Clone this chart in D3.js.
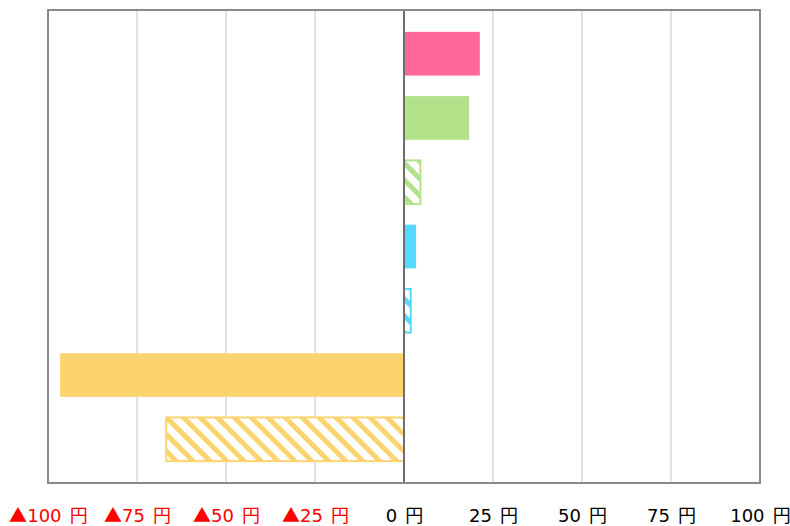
<!DOCTYPE html>
<html><head><meta charset="utf-8">
<script src="https://cdn.jsdelivr.net/npm/d3@7"></script>
<style>
html,body{margin:0;padding:0;background:#fff;overflow:hidden}
@font-face{font-family:"TriCJK";src:local("Noto Sans CJK JP"),local("NotoSansCJKjp-Regular"),local("Noto Sans CJK JP Regular");unicode-range:U+25B2;}
</style>
</head><body><svg id="c" width="790" height="526"></svg>
<script>
const categories = ["A","B","C","D","E","F","G"];
const values = [21.3, 18.3, 4.6, 3.4, 1.9, -96.6, -66.8];
const colors = ["#ff6699","#b3e28b","#b3e28b","#55d9ff","#55d9ff","#fbd470","#fbd470"];
const hatched = [false,false,true,false,true,false,true];
const tickValues = [-100,-75,-50,-25,0,25,50,75,100];
const tickLabels = ["▲100 円","▲75 円","▲50 円","▲25 円","0 円","25 円","50 円","75 円","100 円"];

const svg = d3.select("#c");
const L = 48, R = 760, T = 10, B = 483;
const x = d3.scaleLinear().domain([-100,100]).range([L,R]);
const y = d3.scaleBand().domain(categories).range([T,B]).paddingInner(0.32).paddingOuter(0.34);

const defs = svg.append("defs");
colors.forEach((c,i)=>{
  if(!hatched[i]) return;
  const p = defs.append("pattern").attr("id","h"+i).attr("patternUnits","userSpaceOnUse")
    .attr("width",12).attr("height",12).attr("patternTransform","rotate(-45)");
  p.append("rect").attr("width",12).attr("height",12).attr("fill","#fff");
  p.append("rect").attr("width",5).attr("height",12).attr("fill",c);
});

// grid
svg.append("g").selectAll("line").data(tickValues.filter(v=>v!==0 && v!==-100 && v!==100)).join("line")
  .attr("x1",d=>x(d)).attr("x2",d=>x(d)).attr("y1",T).attr("y2",B)
  .attr("stroke","#d9d9d9").attr("stroke-width",1.5);

// bars
svg.append("g").selectAll("rect").data(values).join("rect")
  .attr("x",(d)=>x(Math.min(0,d)))
  .attr("y",(d,i)=>y(categories[i]))
  .attr("width",d=>Math.abs(x(d)-x(0)))
  .attr("height",y.bandwidth())
  .attr("fill",(d,i)=>hatched[i]?`url(#h${i})`:colors[i])
  .attr("stroke",(d,i)=>hatched[i]?colors[i]:"none")
  .attr("stroke-width",2);

// zero line
svg.append("line").attr("x1",x(0)).attr("x2",x(0)).attr("y1",T).attr("y2",B)
  .attr("stroke","#6e6e6e").attr("stroke-width",2);

// frame
svg.append("rect").attr("x",L).attr("y",T).attr("width",R-L).attr("height",B-T)
  .attr("fill","none").attr("stroke","#8a8a8a").attr("stroke-width",2);

// axis labels
const ax = d3.axisBottom(x).tickValues(tickValues).tickSize(0)
  .tickFormat((d,i)=>tickLabels[i]);
const g = svg.append("g").attr("transform",`translate(0,${B})`).call(ax);
g.select(".domain").remove();
g.selectAll("text").attr("y",26).attr("dy","0.71em")
  .attr("font-family","TriCJK,'DejaVu Sans','Noto Sans CJK JP',sans-serif").attr("font-size",18)
  .attr("word-spacing","2.5px")
  .attr("fill",(d)=>d<0?"#ff0000":"#000");
</script></body></html>
